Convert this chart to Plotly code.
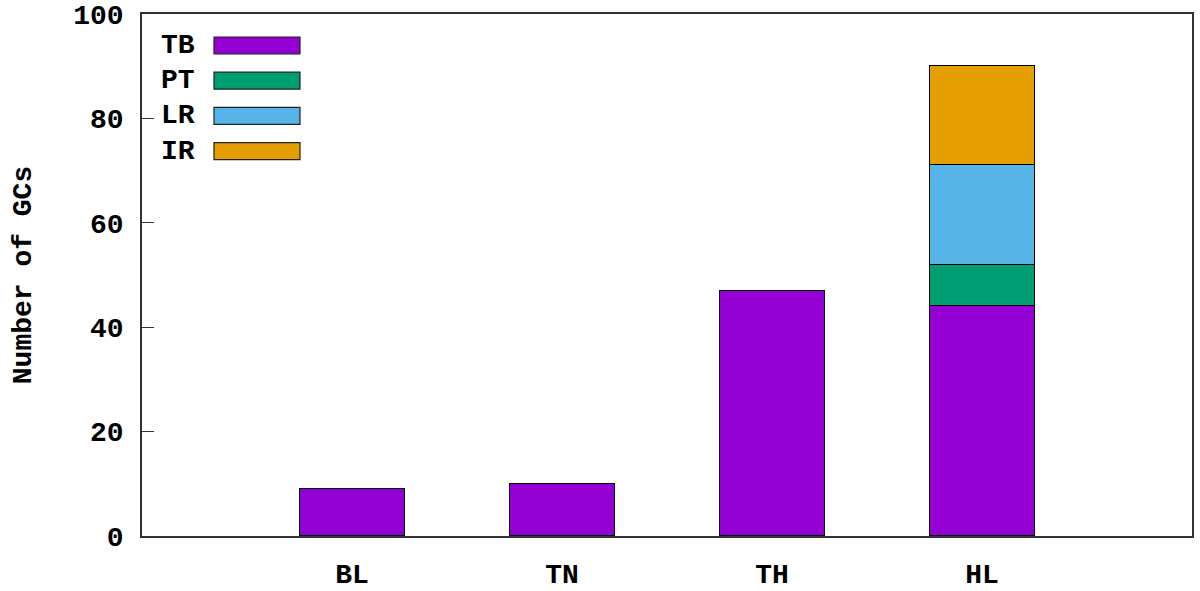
import plotly.graph_objects as go

categories = ["BL", "TN", "TH", "HL"]
series_names = ["TB", "PT", "LR", "IR"]
tb = [9, 10, 47, 44]
pt = [0, 0, 0, 8]
lr = [0, 0, 0, 19]
ir = [0, 0, 0, 19]
series_values = [tb, pt, lr, ir]
colors = ["#9400D3", "#009E73", "#56B4E9", "#E69F00"]
y_ticks = [0, 20, 40, 60, 80, 100]

FONT = "Liberation Mono"
FS = 28

W, H = 1200, 591
L, R, T, B = 142, 8, 14, 55
pw, ph = W - L - R, H - T - B

x_pos = list(range(1, len(categories) + 1))

fig = go.Figure()
for name, vals, col in zip(series_names, series_values, colors):
    fig.add_trace(go.Bar(
        x=x_pos, y=vals, name=name, width=0.5,
        marker=dict(color=col, line=dict(color="black", width=1.2)),
        showlegend=False,
    ))

# gnuplot-style legend (text left, swatch right)
def px2paper(px, py):
    return (px - L) / pw, (H - B - py) / ph

shapes = []
annotations = []
for i, (name, col) in enumerate(zip(series_names, colors)):
    cy = 45.5 + i * 35.2
    x0, y0 = px2paper(214, cy + 8.5)
    x1, y1 = px2paper(300, cy - 8.5)
    shapes.append(dict(type="rect", xref="paper", yref="paper", x0=x0, y0=y0, x1=x1, y1=y1,
                       fillcolor=col, line=dict(color="#222", width=1.2)))
    tx, ty = px2paper(197, cy)
    annotations.append(dict(xref="paper", yref="paper", x=tx, y=ty, text=f"<b>{name}</b>",
                            showarrow=False, xanchor="right", yanchor="middle",
                            font=dict(family=FONT, size=FS, color="black")))

fig.update_layout(
    barmode="stack",
    width=W, height=H,
    margin=dict(l=L, r=R, t=T, b=B, autoexpand=False),
    plot_bgcolor="white", paper_bgcolor="white",
    shapes=shapes, annotations=annotations,
    font=dict(family=FONT, size=FS, color="black"),
    bargap=0,
)
fig.update_xaxes(
    range=[0, 5], tickvals=x_pos, ticktext=[f"<b>{c}</b>" for c in categories],
    ticks="", showgrid=False, zeroline=False, automargin=False,
    showline=True, linecolor="#333", linewidth=1.5, mirror=True,
    tickfont=dict(family=FONT, size=FS), ticklabelstandoff=12,
)
fig.update_yaxes(
    range=[0, 100], tickvals=y_ticks, ticktext=[f"<b>{v}</b>" for v in y_ticks],
    ticks="inside", ticklen=12, tickcolor="#333", showgrid=False, zeroline=False,
    automargin=False,
    showline=True, linecolor="#333", linewidth=1.5, mirror=True,
    tickfont=dict(family=FONT, size=FS), ticklabelstandoff=11,
    title=dict(text="<b>Number of GCs</b>", font=dict(family=FONT, size=FS), standoff=33),
)

fig.write_html(
    "out.html",
    config={"displayModeBar": False},
    post_script="document.documentElement.style.margin='0';document.body.style.margin='0';document.body.style.overflow='hidden';",
)
